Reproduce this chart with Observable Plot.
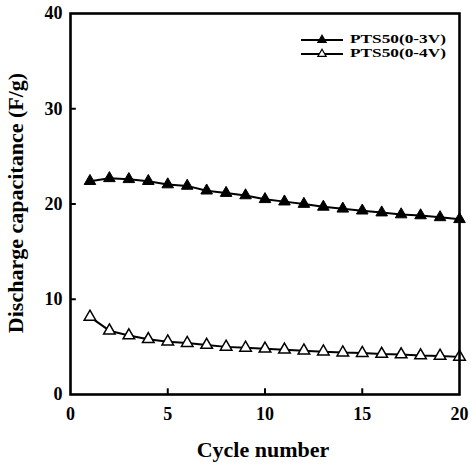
<!DOCTYPE html>
<html>
<head>
<meta charset="utf-8">
<script src="https://cdn.jsdelivr.net/npm/d3@7"></script>
<script src="https://cdn.jsdelivr.net/npm/@observablehq/plot@0.6"></script>
<style>
  html, body { margin: 0; padding: 0; background: #fff; }
  svg { display: block; }
</style>
</head>
<body>
<div id="chart"></div>
<script>
const cycles = [1,2,3,4,5,6,7,8,9,10,11,12,13,14,15,16,17,18,19,20];
const pts3V = [22.4,22.7,22.6,22.4,22.05,21.9,21.4,21.15,20.9,20.5,20.25,20.0,19.7,19.5,19.3,19.1,18.9,18.8,18.6,18.4];
const pts4V = [8.15,6.7,6.2,5.8,5.55,5.4,5.2,5.0,4.9,4.8,4.7,4.6,4.5,4.4,4.35,4.25,4.2,4.1,4.05,3.95];
const seriesNames = ["PTS50(0-3V)", "PTS50(0-4V)"];
const xTicks = [0,5,10,15,20];
const yTicks = [0,10,20,30,40];

const rows3 = cycles.map((c,i) => ({cycle: c, value: pts3V[i]}));
const rows4 = cycles.map((c,i) => ({cycle: c, value: pts4V[i]}));
const font = "'Liberation Serif', 'Times New Roman', serif";

const plot = Plot.plot({
  width: 471,
  height: 466,
  marginLeft: 70,
  marginRight: 12,
  marginTop: 13,
  marginBottom: 72,
  style: {fontFamily: font, fontWeight: "bold", fontSize: "18px", background: "#fff", color: "#000"},
  x: {domain: [0,20]},
  y: {domain: [0,40]},
  marks: [
    Plot.axisX({ticks: xTicks, tickSize: 0, tickPadding: 13, label: null, fontSize: 18}),
    Plot.axisY({ticks: yTicks, tickSize: 0, tickPadding: 8, label: null, fontSize: 18}),
    Plot.ruleX(xTicks.slice(1,-1), {y1: 0, y2: 0.6, stroke: "#000", strokeWidth: 2}),
    Plot.ruleY(yTicks.slice(1,-1), {x1: 0, x2: 0.3, stroke: "#000", strokeWidth: 2}),
    Plot.line(rows3, {x: "cycle", y: "value", stroke: "#000", strokeWidth: 2}),
    Plot.dot(rows3, {x: "cycle", y: "value", symbol: "triangle", r: 4.3, fill: "#000", stroke: "#000", strokeWidth: 1}),
    Plot.line(rows4, {x: "cycle", y: "value", stroke: "#000", strokeWidth: 2}),
    Plot.dot(rows4, {x: "cycle", y: "value", symbol: "triangle", r: 4.3, fill: "#fff", stroke: "#000", strokeWidth: 1.5}),
    Plot.frame({stroke: "#000", strokeWidth: 2.6})
  ]
});

const svg = d3.select(plot);
// Axis titles
svg.append("text")
  .attr("x", 263).attr("y", 452)
  .attr("text-anchor", "middle").attr("dominant-baseline", "middle")
  .attr("font-family", font).attr("font-weight", "bold").attr("font-size", 22)
  .text("Cycle number");
svg.append("text")
  .attr("transform", "translate(18,203) rotate(-90)")
  .attr("text-anchor", "middle").attr("dominant-baseline", "middle")
  .attr("font-family", font).attr("font-weight", "bold").attr("font-size", 22)
  .text("Discharge capacitance (F/g)");

// Legend
const sym = d3.symbol().type(d3.symbolTriangle).size(30);
const leg = svg.append("g");
seriesNames.forEach((name, i) => {
  const y = 40 + i * 14;
  leg.append("line").attr("x1", 301).attr("x2", 343).attr("y1", y).attr("y2", y)
    .attr("stroke", "#000").attr("stroke-width", 2);
  leg.append("path").attr("d", sym()).attr("transform", `translate(322,${y})`)
    .attr("fill", i === 0 ? "#000" : "#fff").attr("stroke", "#000").attr("stroke-width", 1.2);
  leg.append("text").attr("x", 350).attr("y", y).attr("dominant-baseline", "middle")
    .attr("text-anchor", "start")
    .attr("font-family", font).attr("font-weight", "bold").attr("font-size", 13)
    .attr("textLength", 96).attr("lengthAdjust", "spacingAndGlyphs")
    .text(name);
});

document.getElementById("chart").appendChild(plot);
</script>
</body>
</html>
